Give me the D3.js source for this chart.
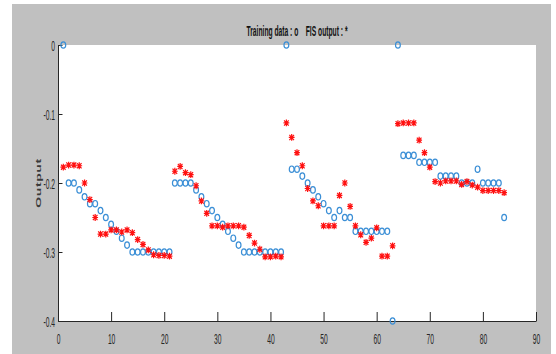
<!DOCTYPE html>
<html>
<head>
<meta charset="utf-8">
<script src="https://cdnjs.cloudflare.com/ajax/libs/d3/7.8.5/d3.min.js"></script>
<style>
body{margin:0;background:#fff;}
svg{display:block;font-family:"Liberation Sans", Arial, sans-serif;}
</style>
</head>
<body>
<script>
// values, index 1..84
const trainingData = [
    0, -0.20, -0.20, -0.21, -0.22, -0.23, -0.23, -0.24, -0.25, -0.26, -0.27, -0.28, -0.29, -0.30, -0.30, -0.30, -0.30, -0.30, -0.30, -0.30, -0.30,
    -0.20, -0.20, -0.20, -0.20, -0.21, -0.22, -0.23, -0.24, -0.25, -0.26, -0.27, -0.28, -0.29, -0.30, -0.30, -0.30, -0.30, -0.30, -0.30, -0.30, -0.30,
    0, -0.18, -0.18, -0.19, -0.20, -0.21, -0.22, -0.23, -0.24, -0.25, -0.24, -0.25, -0.25, -0.27, -0.27, -0.27, -0.27, -0.27, -0.27, -0.27, -0.40,
    0, -0.16, -0.16, -0.16, -0.17, -0.17, -0.17, -0.17, -0.19, -0.19, -0.19, -0.19, -0.20, -0.20, -0.20, -0.18, -0.20, -0.20, -0.20, -0.20, -0.25
];
const fisOutput = [
    -0.177, -0.174, -0.174, -0.175, -0.200, -0.224, -0.250, -0.274, -0.274, -0.268, -0.268, -0.271, -0.268, -0.272, -0.282, -0.289, -0.297, -0.304, -0.305, -0.305, -0.306,
    -0.183, -0.176, -0.185, -0.188, -0.204, -0.226, -0.244, -0.262, -0.262, -0.264, -0.262, -0.262, -0.262, -0.264, -0.276, -0.287, -0.296, -0.307, -0.307, -0.306, -0.307,
    -0.113, -0.134, -0.156, -0.175, -0.208, -0.226, -0.233, -0.262, -0.262, -0.262, -0.218, -0.200, -0.234, -0.262, -0.275, -0.286, -0.280, -0.265, -0.306, -0.306, -0.291,
    -0.114, -0.113, -0.113, -0.113, -0.138, -0.156, -0.177, -0.198, -0.200, -0.197, -0.197, -0.197, -0.202, -0.198, -0.203, -0.206, -0.211, -0.211, -0.211, -0.211, -0.214
];
const xTicks = [0, 10, 20, 30, 40, 50, 60, 70, 80, 90];
const yTicks = [0, -0.1, -0.2, -0.3, -0.4];
const yTickLabels = ["0", "-0.1", "-0.2", "-0.3", "-0.4"];
const titleText = "Training data : o    FIS output : *";
const yLabelText = "Output";

const W = 556, H = 354;
const L = 58, R = 536, T = 45, B = 321;
const sq = 0.48; // the whole figure looks squeezed sideways
const axisColor = "#262626";

const svg = d3.select("body").append("svg").attr("width", W).attr("height", H);

let xScale, yScale;

let drawFrame=()=>{
    svg.append("rect").attr("x", 12).attr("y", 4).attr("width", 539).attr("height", H-4).attr("fill", "#c0c0c0");
    svg.append("rect").attr("x", L).attr("y", T).attr("width", R-L).attr("height", B-T).attr("fill", "#fff");
};

let createScales=()=>{
    xScale = d3.scaleLinear().domain([0, 90]).range([L, R]);
    yScale = d3.scaleLinear().domain([-0.4, 0]).range([B, T]);
};

let createAxis=()=>{
    let xAxis = d3.axisBottom(xScale).tickValues(xTicks).tickSize(-9).tickSizeOuter(0).tickFormat(d3.format("d"));
    svg.append("g").attr("transform", "translate(0,"+B+")").call(xAxis)
        .attr("color", axisColor).attr("font-size", 14).attr("font-family", null)
        .call(g => g.selectAll("text").attr("y", null).attr("dy", null)
            .attr("transform", "translate(0,23) scale("+sq+",1)"));

    let yAxis = d3.axisLeft(yScale).tickValues(yTicks).tickSize(-4.5).tickSizeOuter(0)
        .tickFormat((d, i)=>yTickLabels[i]);
    svg.append("g").attr("transform", "translate("+L+",0)").call(yAxis)
        .attr("color", axisColor).attr("font-size", 14).attr("font-family", null)
        .call(g => g.selectAll("text").attr("x", null).attr("dy", null)
            .attr("transform", "translate(-3,5) scale("+sq+",1)"));
};

let createLabels=()=>{
    svg.append("text")
        .attr("transform", "translate("+((L+R)/2)+",36) scale("+sq+",1)")
        .attr("text-anchor", "middle").attr("font-weight", "bold").attr("font-size", 14)
        .attr("fill", "#111").style("white-space", "pre")
        .text(titleText);

    svg.append("text")
        .attr("transform", "translate(41,"+((T+B)/2)+") rotate(-90) scale(1,0.55)")
        .attr("text-anchor", "middle").attr("font-size", 14).attr("letter-spacing", 0.6)
        .attr("font-weight", "bold").attr("fill", "#3a3a3a")
        .text(yLabelText);
};

let plotData=()=>{
    svg.append("g").selectAll("ellipse")
        .data(trainingData)
        .join("ellipse")
        .attr("cx", (d, i)=>xScale(i+1))
        .attr("cy", d=>yScale(d))
        .attr("rx", 2.4).attr("ry", 3.2)
        .attr("fill", "none").attr("stroke", "#3b8fd6").attr("stroke-width", 1.2);

    const star = "M0,-3.4V3.4M-2.9,0H2.9M-2.3,-2.6L2.3,2.6M-2.3,2.6L2.3,-2.6";
    svg.append("g").selectAll("path")
        .data(fisOutput)
        .join("path")
        .attr("d", star)
        .attr("transform", (d, i)=>"translate("+xScale(i+1)+","+yScale(d)+")")
        .attr("fill", "none").attr("stroke", "#ff1010").attr("stroke-width", 1.2);
};

drawFrame();
createScales();
createAxis();
plotData();
createLabels();
</script>
</body>
</html>
